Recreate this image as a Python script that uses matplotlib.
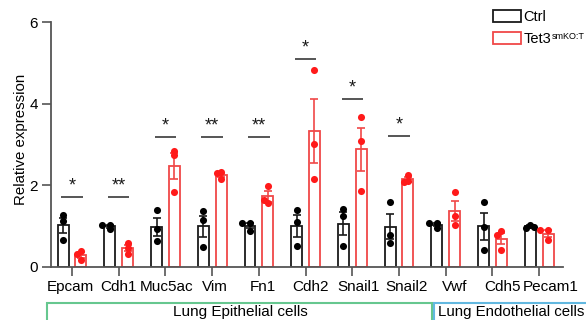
import numpy as np
import matplotlib
matplotlib.use('Agg')
import matplotlib.pyplot as plt
import matplotlib.transforms as mtransforms
from matplotlib.patches import Patch, Rectangle

plt.rcParams['font.family'] = ['Liberation Sans', 'DejaVu Sans']

# genes and replicate values (3 mice per group)
genes = ['Epcam', 'Cdh1', 'Muc5ac', 'Vim', 'Fn1', 'Cdh2',
         'Snail1', 'Snail2', 'Vwf', 'Cdh5', 'Pecam1']
ctrl = [[1.27, 1.13, 0.66], [0.93, 1.04, 1.04], [1.40, 0.92, 0.63],
        [1.36, 1.14, 0.49], [1.08, 1.07, 0.89], [1.40, 1.10, 0.51],
        [1.43, 1.24, 0.51], [1.58, 0.79, 0.60], [1.08, 1.07, 0.96],
        [1.59, 0.97, 0.42], [1.04, 0.96, 0.98]]
ko = [[0.40, 0.32, 0.17], [0.59, 0.47, 0.33], [2.84, 2.74, 1.84],
      [2.32, 2.30, 2.16], [1.99, 1.57, 1.63], [4.82, 3.01, 2.15],
      [3.68, 3.09, 1.87], [2.26, 2.10, 2.08], [1.83, 1.24, 1.02],
      [0.87, 0.79, 0.42], [0.91, 0.90, 0.65]]

# significance marks
sig_genes = ['Epcam', 'Cdh1', 'Muc5ac', 'Vim', 'Fn1', 'Cdh2', 'Snail1', 'Snail2']
sig_marks = ['*', '**', '*', '**', '**', '*', '*', '*']
sig_heights = [1.72, 1.72, 3.19, 3.19, 3.19, 5.1, 4.12, 3.22]

# cell-type groups under the x axis
groups = ['Lung Epithelial cells', 'Lung Endothelial cells']

BLACK = '#1a1a1a'
RED = '#ff1a1a'
EDGE_RED = '#f04848'
AXIS = '#555555'

fig = plt.figure(figsize=(5.86, 3.2), dpi=100)
ax = fig.add_axes([51 / 586, 1 - 267 / 320, 512 / 586, 245 / 320])

x = np.arange(len(genes))
off = 0.19
w = 0.235


def swarm(vals, center):
    # nudge overlapping dots sideways a little
    placed = []
    d = 0.085
    for v in vals:
        for c in [0, -d, d, -2 * d, 2 * d]:
            ok = all(np.hypot((c - pc) * 46.7, (v - pv) * 40.8) >= 4 for pc, pv in placed)
            if ok:
                placed.append((c, v))
                break
    return [center + c for c, _ in placed], [v for _, v in placed]


for data, sign, ec, dc in [(ctrl, -1, BLACK, 'black'), (ko, 1, EDGE_RED, RED)]:
    arr = np.array(data)
    means = arr.mean(axis=1)
    sems = arr.std(axis=1, ddof=1) / np.sqrt(arr.shape[1])
    pos = x + sign * off
    ax.bar(pos, means, width=w, facecolor='white', edgecolor=ec, linewidth=1.3, zorder=2)
    ax.errorbar(pos, means, yerr=sems, fmt='none', ecolor=ec, elinewidth=1.2,
                capsize=3, capthick=1.2, zorder=3)
    for p, vals in zip(pos, data):
        xs, ys = swarm(vals, p)
        ax.scatter(xs, ys, s=26, color=dc, zorder=4, linewidths=0)

for g, m, h in zip(sig_genes, sig_marks, sig_heights):
    i = genes.index(g)
    ax.plot([i - 0.23, i + 0.23], [h, h], color=AXIS, lw=1.4, solid_capstyle='butt')
    ax.text(i, h + 0.06, m, ha='center', va='bottom', fontsize=13, color=BLACK)

ax.set_xlim(-0.45, 10.51)
ax.set_ylim(0, 6)
ax.set_yticks([0, 2, 4, 6])
ax.set_xticks(x)
ax.set_xticklabels(genes)
ax.set_ylabel('Relative expression', fontsize=10.8)
ax.yaxis.set_label_coords(-0.045, 0.522)
ax.tick_params(axis='both', labelsize=11, color=AXIS, width=1.2, length=6.5, pad=3)
for s in ['top', 'right']:
    ax.spines[s].set_visible(False)
for s in ['left', 'bottom']:
    ax.spines[s].set_color(AXIS)
    ax.spines[s].set_linewidth(1.3)

# the gene names sit on a slightly wider pitch than the ticks
for i, lab in enumerate(ax.get_xticklabels()):
    dx = (1.3 * i - 1.5) / 100
    lab.set_transform(lab.get_transform() + mtransforms.ScaledTranslation(dx, 0, fig.dpi_scale_trans))

# group boxes below the tick labels
box_colors = ['#66c78f', '#62b8e0']
edges = [47, 434, 600]
for k, col in enumerate(box_colors):
    x0, x1 = edges[k], edges[k + 1] - 2
    rect = Rectangle((x0 / 586, -0.02), (x1 - x0) / 586, 1 - 303 / 320 + 0.02,
                     transform=fig.transFigure, facecolor='white', edgecolor=col,
                     linewidth=1.5, clip_on=False)
    fig.patches.append(rect)
fig.text(240 / 586, 1 - 312 / 320, groups[0], ha='center', va='center', fontsize=11)
fig.text(438 / 586, 1 - 312 / 320, groups[1], ha='left', va='center', fontsize=10.8)

handles = [Patch(facecolor='white', edgecolor=BLACK, linewidth=1.3, label='Ctrl'),
           Patch(facecolor='white', edgecolor=EDGE_RED, linewidth=1.3, label='Tet3')]
leg = fig.legend(handles=handles, loc='upper left', bbox_to_anchor=(490 / 586, 1 - 7 / 320),
                 frameon=False, fontsize=10.5, handlelength=1.9, handleheight=0.85,
                 handletextpad=0.2, labelspacing=0.55, borderaxespad=0, borderpad=0.2)

# small superscript after "Tet3"
fig.canvas.draw()
bb = leg.get_texts()[1].get_window_extent().transformed(fig.transFigure.inverted())
fig.text(bb.x1 + 0.001, bb.y1 + 0.001, 'smKO:T', fontsize=6.5, ha='left', va='top')

fig.savefig('out.png', dpi=100)
